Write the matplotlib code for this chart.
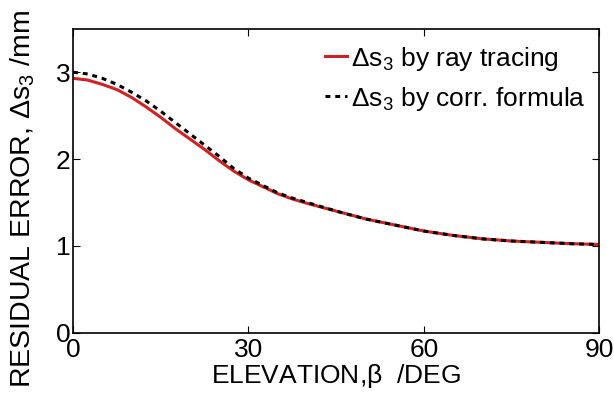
import matplotlib
matplotlib.use("Agg")
import matplotlib.pyplot as plt

# ============================
# data
# ============================
elev = [0, 2.5, 5, 7.5, 10, 12.5, 15, 17.5, 20, 22.5, 25, 27.5, 30, 32.5, 35, 37.5,
        40, 45, 50, 55, 60, 65, 70, 75, 80, 85, 90]
ray_tracing = [2.93, 2.91, 2.86, 2.80, 2.71, 2.60, 2.48, 2.35, 2.23, 2.11, 1.98, 1.86,
               1.76, 1.68, 1.60, 1.54, 1.49, 1.40, 1.31, 1.24, 1.17, 1.12, 1.08,
               1.055, 1.04, 1.025, 1.015]
corr_formula = [3.00, 2.98, 2.93, 2.86, 2.77, 2.67, 2.55, 2.42, 2.29, 2.16, 2.03, 1.89,
                1.78, 1.695, 1.61, 1.55, 1.50, 1.40, 1.31, 1.24, 1.17, 1.12, 1.08,
                1.055, 1.04, 1.025, 1.015]
x_ticks = [0, 30, 60, 90]
y_ticks = [0, 1, 2, 3]

plt.rcParams['font.family'] = ['Liberation Sans', 'DejaVu Sans']
plt.rcParams['mathtext.fontset'] = 'custom'
plt.rcParams['mathtext.rm'] = 'Liberation Sans'
plt.rcParams['mathtext.it'] = 'Liberation Sans'

fig = plt.figure(figsize=(6.14, 3.95), dpi=100)
ax = fig.add_axes([0.119, 0.158, 0.857, 0.769])

ax.plot(elev, ray_tracing, color='#d42020', lw=2.2,
        label=r'$\mathregular{\Delta s_3}$ by ray tracing')
ax.plot(elev, corr_formula, color='black', lw=2.2, linestyle=(0, (1.6, 1.6)),
        label=r'$\mathregular{\Delta s_3}$ by corr. formula')

ax.set_xlim(0, 90)
ax.set_ylim(0, 3.5)
ax.set_xticks(x_ticks)
ax.set_yticks(y_ticks)
ax.tick_params(direction='in', length=5, width=0.8, top=True, right=True,
               labelsize=19)
ax.tick_params(axis='x', pad=4)
ax.tick_params(axis='y', pad=2)
for s in ax.spines.values():
    s.set_linewidth(1.2)

ax.set_xlabel(r'ELEVATION,$\mathregular{\beta}$  /DEG', fontsize=19, labelpad=0)
ax.set_ylabel(r'RESIDUAL ERROR, $\mathregular{\Delta s_3}$ /mm', fontsize=20.5)
ax.yaxis.set_label_coords(-0.068, 0.44)

ax.legend(loc='upper right', frameon=False, fontsize=19, handlelength=0.85,
          handletextpad=0.15, borderaxespad=0.2, labelspacing=0.45,
          bbox_to_anchor=(1.004, 1.0))

fig.savefig('out.png', dpi=100)
